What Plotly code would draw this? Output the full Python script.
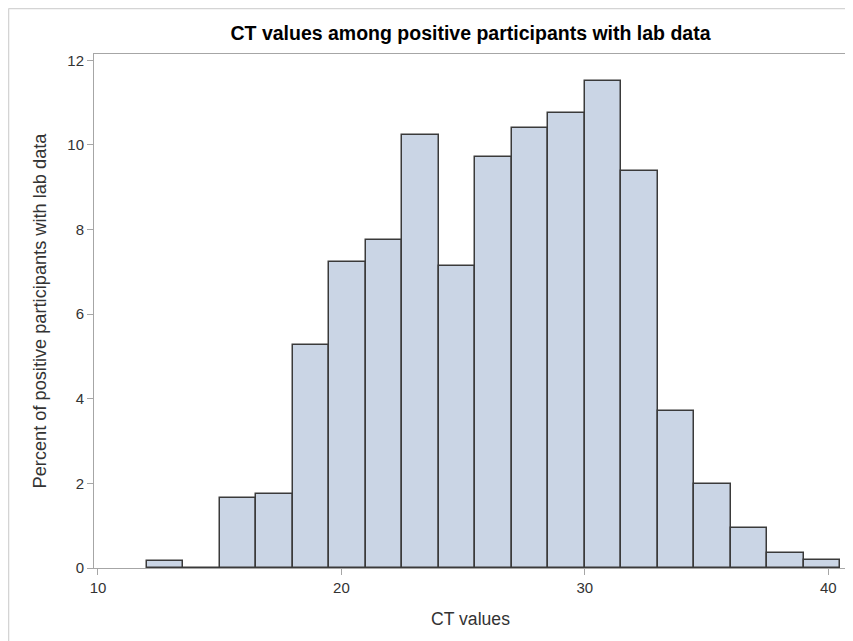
import plotly.graph_objects as go

# Histogram data (bin width 1.5)
bin_starts = [12.0, 13.5, 15.0, 16.5, 18.0, 19.5, 21.0, 22.5, 24.0, 25.5,
              27.0, 28.5, 30.0, 31.5, 33.0, 34.5, 36.0, 37.5, 39.0]
percents = [0.17, 0.0, 1.65, 1.74, 5.26, 7.23, 7.75, 10.24, 7.14, 9.72,
            10.40, 10.75, 11.52, 9.38, 3.71, 1.98, 0.95, 0.36, 0.18]
bin_width = 1.5
x_ticks = [10, 20, 30, 40]
y_ticks = [0, 2, 4, 6, 8, 10, 12]

centers = [s + bin_width / 2 for s in bin_starts]

fig = go.Figure()
fig.add_trace(go.Bar(
    x=centers, y=percents, width=bin_width,
    marker=dict(color="#CAD5E5", line=dict(color="#3a3a3a", width=1.5)),
    hoverinfo="x+y",
))

font_family = "Liberation Sans, Arial, Helvetica, sans-serif"
axis_common = dict(
    showline=True, mirror=True, linecolor="#a6a6a6", linewidth=1,
    ticks="outside", ticklen=6, tickcolor="#a6a6a6", tickwidth=1,
    showgrid=False, zeroline=False,
    tickfont=dict(family=font_family, size=15, color="#333333"),
)

W, H = 845, 633
fig.update_layout(
    width=W, height=H,
    margin=dict(l=86, r=6, t=46, b=73),
    paper_bgcolor="white", plot_bgcolor="white",
    showlegend=False,
    bargap=0,
    title=dict(text="<b>CT values among positive participants with lab data</b>",
               x=0.5, xref="paper", xanchor="center",
               y=1 - 25 / H, yref="container", yanchor="middle",
               font=dict(family=font_family, size=19.5, color="#000000")),
    xaxis=dict(range=[9.836, 40.77], tickvals=x_ticks,
               title=dict(text="CT values", standoff=17,
                          font=dict(family=font_family, size=17.6, color="#333333")),
               **axis_common),
    yaxis=dict(range=[0, 12.15], tickvals=y_ticks,
               title=dict(text="Percent of positive participants with lab data", standoff=15,
                          font=dict(family=font_family, size=18.2, color="#333333")),
               **axis_common),
)

# Outer light-gray frame (left and top edges)
fig.add_shape(type="line", xref="paper", yref="paper",
              x0=-0.1135, x1=-0.1135, y0=1.0885, y1=-0.16,
              line=dict(color="#d4d4d4", width=1.5), layer="below")
fig.add_shape(type="line", xref="paper", yref="paper",
              x0=-0.1135, x1=1.02, y0=1.0885, y1=1.0885,
              line=dict(color="#d4d4d4", width=1.5), layer="below")

fig.write_html("out.html")
